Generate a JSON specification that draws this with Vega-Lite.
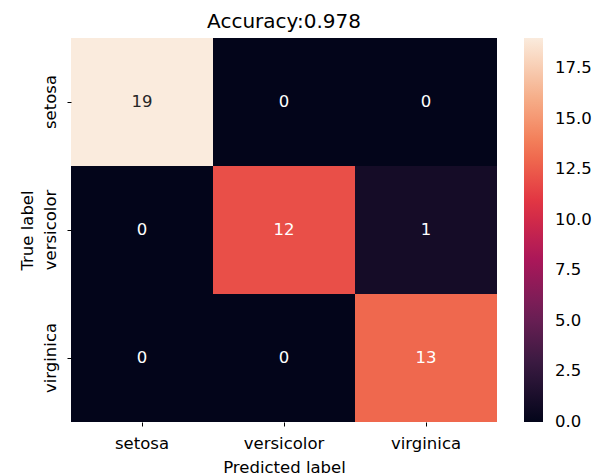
{
  "$schema": "https://vega.github.io/schema/vega-lite/v6.json",
  "width": 426,
  "height": 384,
  "autosize": {"type": "none"},
  "padding": {"left": 71, "top": 38, "right": 103, "bottom": 54},
  "background": "white",
  "title": {"text": "Accuracy:0.978", "fontSize": 20, "font": "DejaVu Sans", "fontWeight": "normal", "color": "black", "offset": 6, "anchor": "middle", "frame": "group"},
  "data": {"values": [
    {"true": "setosa", "pred": "setosa", "count": 19},
    {"true": "setosa", "pred": "versicolor", "count": 0},
    {"true": "setosa", "pred": "virginica", "count": 0},
    {"true": "versicolor", "pred": "setosa", "count": 0},
    {"true": "versicolor", "pred": "versicolor", "count": 12},
    {"true": "versicolor", "pred": "virginica", "count": 1},
    {"true": "virginica", "pred": "setosa", "count": 0},
    {"true": "virginica", "pred": "versicolor", "count": 0},
    {"true": "virginica", "pred": "virginica", "count": 13}
  ]},
  "encoding": {
    "x": {
      "field": "pred", "type": "nominal", "sort": ["setosa", "versicolor", "virginica"],
      "title": "Predicted label",
      "scale": {"paddingInner": 0, "paddingOuter": 0},
      "axis": {"orient": "bottom", "labelAngle": 0, "domain": false, "grid": false, "tickSize": 4, "tickColor": "black", "tickWidth": 1,
               "labelPadding": 9, "labelFont": "DejaVu Sans", "labelFontSize": 16.5, "labelColor": "black",
               "titleFont": "DejaVu Sans", "titleFontSize": 16.5, "titleFontWeight": "normal", "titleColor": "black",
               "titleBaseline": "alphabetic", "titleY": 50}
    },
    "y": {
      "field": "true", "type": "nominal", "sort": ["setosa", "versicolor", "virginica"],
      "title": "True label",
      "scale": {"paddingInner": 0, "paddingOuter": 0},
      "axis": {"orient": "left", "labelAngle": -90, "labelAlign": "center", "labelBaseline": "alphabetic", "domain": false, "grid": false, "tickSize": 4, "tickColor": "black", "tickWidth": 1,
               "labelPadding": 12, "labelFont": "DejaVu Sans", "labelFontSize": 16.5, "labelColor": "black",
               "titleFont": "DejaVu Sans", "titleFontSize": 16.5, "titleFontWeight": "normal", "titleColor": "black",
               "titleBaseline": "alphabetic", "titleAngle": -90, "titleX": -39, "titleY": 192}
    }
  },
  "layer": [
    {
      "mark": {"type": "rect", "strokeWidth": 0},
      "encoding": {
        "color": {
          "field": "count", "type": "quantitative",
          "scale": {
            "domain": [0, 2.714, 5.429, 8.143, 10.857, 13.571, 16.286, 19],
            "range": ["#03051a", "#35193e", "#701f57", "#ad1759", "#e13342", "#f37651", "#f6b48f", "#faebdd"],
            "interpolate": "rgb"
          },
          "legend": {
            "title": null, "direction": "vertical", "orient": "right",
            "gradientLength": 384, "gradientThickness": 19, "gradientStrokeWidth": 0,
            "values": [0, 2.5, 5, 7.5, 10, 12.5, 15, 17.5], "format": ".1f",
            "labelFont": "DejaVu Sans", "labelFontSize": 16.5, "labelColor": "black",
            "labelOffset": 12, "labelOverlap": false, "labelBaseline": "middle",
            "offset": 27, "padding": 0,
            "encode": {"labels": {"update": {"baseline": {"value": "middle"}}}}
          }
        }
      }
    },
    {
      "mark": {"type": "text", "font": "DejaVu Sans", "fontSize": 16.5, "align": "center", "baseline": "middle"},
      "encoding": {
        "text": {"field": "count", "type": "quantitative"},
        "color": {"condition": {"test": "datum.count > 15", "value": "#262626"}, "value": "white"}
      }
    }
  ],
  "config": {"view": {"stroke": null}}
}
